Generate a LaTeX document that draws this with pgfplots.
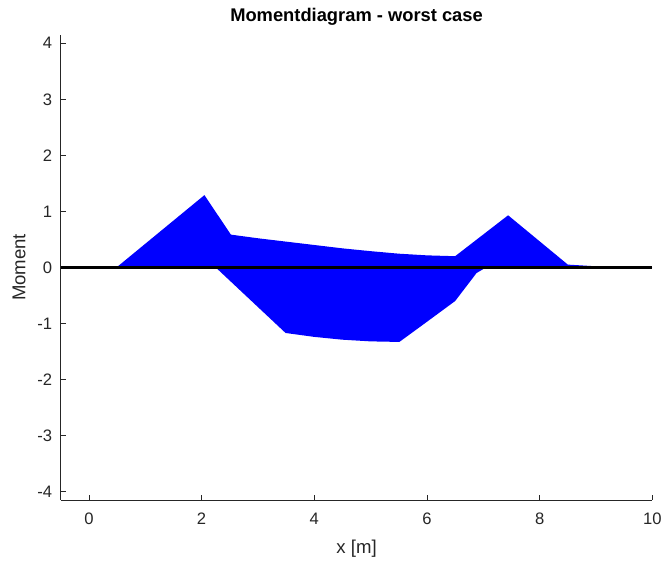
\documentclass[border=0pt]{standalone}
\usepackage{pgfplots}
\pgfplotsset{compat=1.18}
\usepackage{fontspec}
\setmainfont{Liberation Sans}
\definecolor{axgray}{RGB}{38,38,38}
\begin{document}
\begin{tikzpicture}
\begin{axis}[
  scale only axis, width=445.5pt, height=350.25pt,
  xmin=-0.5, xmax=10, ymin=-4.15, ymax=4.15,
  axis lines*=left,
  axis line style={axgray, line width=0.6pt},
  tick align=inside, major tick length=4pt,
  tick style={axgray, line width=0.6pt},
  xtick={0,2,...,10}, ytick={-4,-3,...,4},
  /pgf/number format/assume math mode=true,
  ticklabel style={font=\fontsize{12.5}{14}\selectfont, text=axgray},
  xticklabel style={yshift=-6pt},
  yticklabel style={xshift=-3pt},
  title={\textbf{Momentdiagram - worst case}},
  title style={font=\fontsize{13.8}{16}\selectfont, yshift=-2.5pt},
  xlabel={x [m]}, ylabel={Moment},
  label style={font=\fontsize{14}{16}\selectfont, text=axgray},
  xlabel style={yshift=-5pt},
  ylabel style={yshift=2pt},
  clip=false,
]
\addplot[fill=blue, draw=none] coordinates {
  (0.49,0) (2.05,1.29) (2.52,0.585) (3,0.52) (3.5,0.46) (4,0.40) (4.5,0.34)
  (5,0.29) (5.5,0.245) (6,0.215) (6.5,0.20) (7.44,0.93) (8.5,0.05) (9,0.02)
  (10,0) (0.49,0)
} -- cycle;
\addplot[fill=blue, draw=none] coordinates {
  (2.25,0) (3.49,-1.17) (4,-1.24) (4.5,-1.29) (5,-1.32) (5.51,-1.33)
  (6,-0.97) (6.5,-0.6) (6.88,-0.1) (7.05,0) (2.25,0)
} -- cycle;
\addplot[black, line width=2.6pt] coordinates {(-0.5,0) (10,0)};
\end{axis}
\path ([shift={(-45.75pt,-45pt)}]current axis.south west) rectangle ([shift={(8.25pt,26.25pt)}]current axis.north east);
\end{tikzpicture}
\end{document}
